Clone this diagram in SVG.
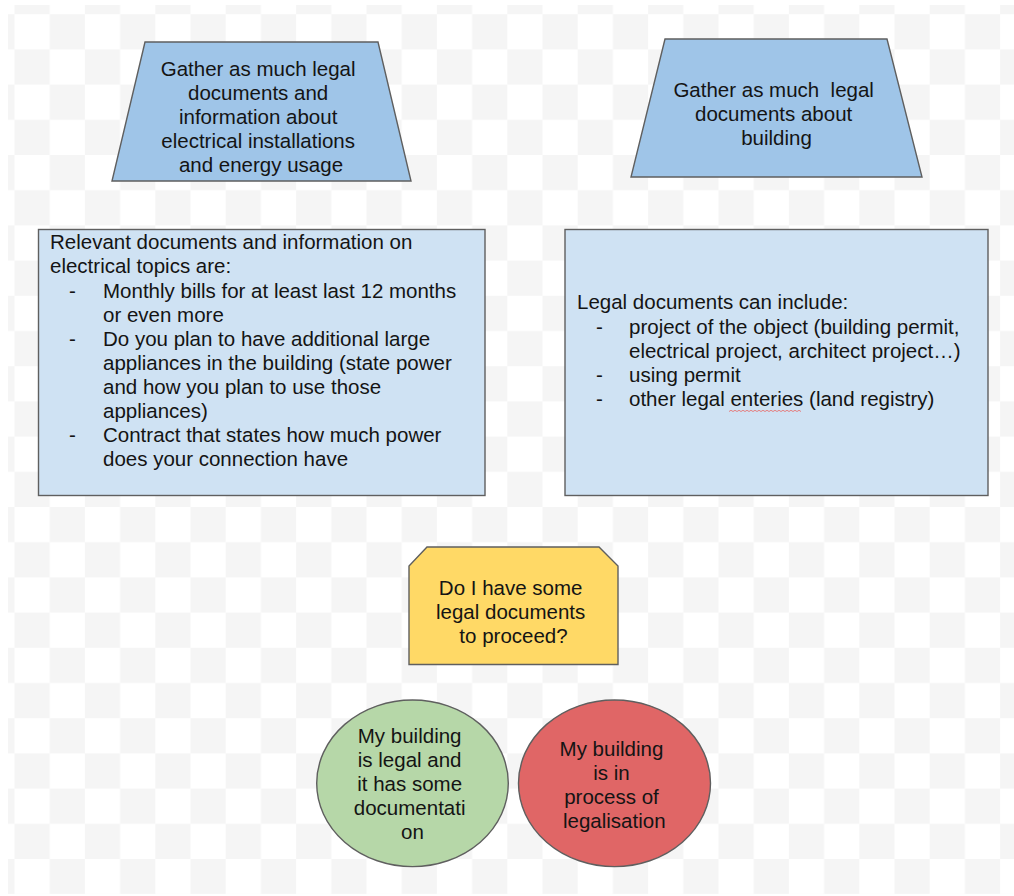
<svg xmlns="http://www.w3.org/2000/svg" width="1014" height="896" viewBox="0 0 1014 896">
<style>
  .t { font-family: "Liberation Sans", Arial, sans-serif; font-size: 20.5px; fill: #141414; }
  .c { text-anchor: middle; }
  .shape { stroke: #5f5f5f; stroke-width: 1.4; }
  .blue { fill: #9fc5e8; }
  .lblue { fill: #cfe2f3; }
  .yellow { fill: #ffd966; }
  .green { fill: #b6d7a8; }
  .red { fill: #e06666; }
</style>
<defs>
  <pattern id="checker" x="14.5" y="14.2" width="70.4" height="70.4" patternUnits="userSpaceOnUse">
    <rect x="0" y="0" width="70.4" height="70.4" fill="#ffffff"/>
    <rect x="35.2" y="0" width="35.2" height="35.2" fill="#f5f5f5"/>
    <rect x="0" y="35.2" width="35.2" height="35.2" fill="#f5f5f5"/>
  </pattern>
</defs>
<rect x="0" y="0" width="1014" height="896" fill="#ffffff"/>
<rect x="8" y="5" width="1006" height="889" fill="url(#checker)"/>

<g id="connectors"></g>

<g id="gather-electrical">
  <polygon class="shape blue" points="145,42 378,42 411,181 112,181"/>
  <text class="t c">
    <tspan x="261" y="76">Gather as much legal</tspan>
    <tspan x="261" y="100">documents and</tspan>
    <tspan x="261" y="124">information about</tspan>
    <tspan x="261" y="148">electrical installations</tspan>
    <tspan x="261" y="172">and energy usage</tspan>
  </text>
</g>

<g id="gather-building">
  <polygon class="shape blue" points="665,39 887,39 922,177 631,177"/>
  <text class="t c">
    <tspan x="776.5" y="97">Gather as much&#160; legal</tspan>
    <tspan x="776.5" y="121">documents about</tspan>
    <tspan x="776.5" y="145">building</tspan>
  </text>
</g>

<g id="electrical-info">
  <rect class="shape lblue" x="38.5" y="229.5" width="446.5" height="266"/>
  <text class="t">
    <tspan x="50" y="249">Relevant documents and information on</tspan>
    <tspan x="50" y="273">electrical topics are:</tspan>
  </text>
  <text class="t">
    <tspan x="69" y="298">-</tspan>
    <tspan x="103" y="298">Monthly bills for at least last 12 months</tspan>
    <tspan x="103" y="322">or even more</tspan>
    <tspan x="69" y="346">-</tspan>
    <tspan x="103" y="346">Do you plan to have additional large</tspan>
    <tspan x="103" y="370">appliances in the building (state power</tspan>
    <tspan x="103" y="394">and how you plan to use those</tspan>
    <tspan x="103" y="418">appliances)</tspan>
    <tspan x="69" y="442">-</tspan>
    <tspan x="103" y="442">Contract that states how much power</tspan>
    <tspan x="103" y="466">does your connection have</tspan>
  </text>
</g>

<g id="legal-docs">
  <rect class="shape lblue" x="565" y="229.5" width="423" height="266"/>
  <text class="t">
    <tspan x="577" y="309">Legal documents can include:</tspan>
    <tspan x="596" y="334">-</tspan>
    <tspan x="629" y="334">project of the object (building permit,</tspan>
    <tspan x="629" y="358">electrical project, architect project…)</tspan>
    <tspan x="596" y="382">-</tspan>
    <tspan x="629" y="382">using permit</tspan>
    <tspan x="596" y="406">-</tspan>
    <tspan x="629" y="406">other legal enteries (land registry)</tspan>
  </text>
  <path d="M729,411.5 l2,-1.2 l2,1.2 l2,-1.2 l2,1.2 l2,-1.2 l2,1.2 l2,-1.2 l2,1.2 l2,-1.2 l2,1.2 l2,-1.2 l2,1.2 l2,-1.2 l2,1.2 l2,-1.2 l2,1.2 l2,-1.2 l2,1.2 l2,-1.2 l2,1.2 l2,-1.2 l2,1.2 l2,-1.2 l2,1.2 l2,-1.2 l2,1.2 l2,-1.2 l2,1.2 l2,-1.2 l2,1.2 l2,-1.2 l2,1.2 l2,-1.2 l2,1.2 l2,-1.2 l2,1.2" fill="none" stroke="#e57373" stroke-width="0.9"/>
</g>

<g id="question">
  <polygon class="shape yellow" points="427,547 599,547 618,566 618,664.5 409,664.5 409,566"/>
  <text class="t c">
    <tspan x="513.5" y="594.5">Do I have some</tspan>
    <tspan x="513.5" y="618.5">legal documents</tspan>
    <tspan x="513.5" y="642.5">to proceed?</tspan>
  </text>
</g>

<g id="legal-building">
  <ellipse class="shape green" cx="412.5" cy="783.3" rx="95.8" ry="83.3"/>
  <text class="t c">
    <tspan x="412.5" y="743">My building</tspan>
    <tspan x="412.5" y="767">is legal and</tspan>
    <tspan x="412.5" y="791">it has some</tspan>
    <tspan x="412.5" y="815">documentati</tspan>
    <tspan x="412.5" y="839">on</tspan>
  </text>
</g>

<g id="legalisation">
  <ellipse class="shape red" cx="614.5" cy="783.3" rx="96" ry="83.3"/>
  <text class="t c">
    <tspan x="614.3" y="755.5">My building</tspan>
    <tspan x="614.3" y="779.5">is in</tspan>
    <tspan x="614.3" y="803.5">process of</tspan>
    <tspan x="614.3" y="827.5">legalisation</tspan>
  </text>
</g>
</svg>
